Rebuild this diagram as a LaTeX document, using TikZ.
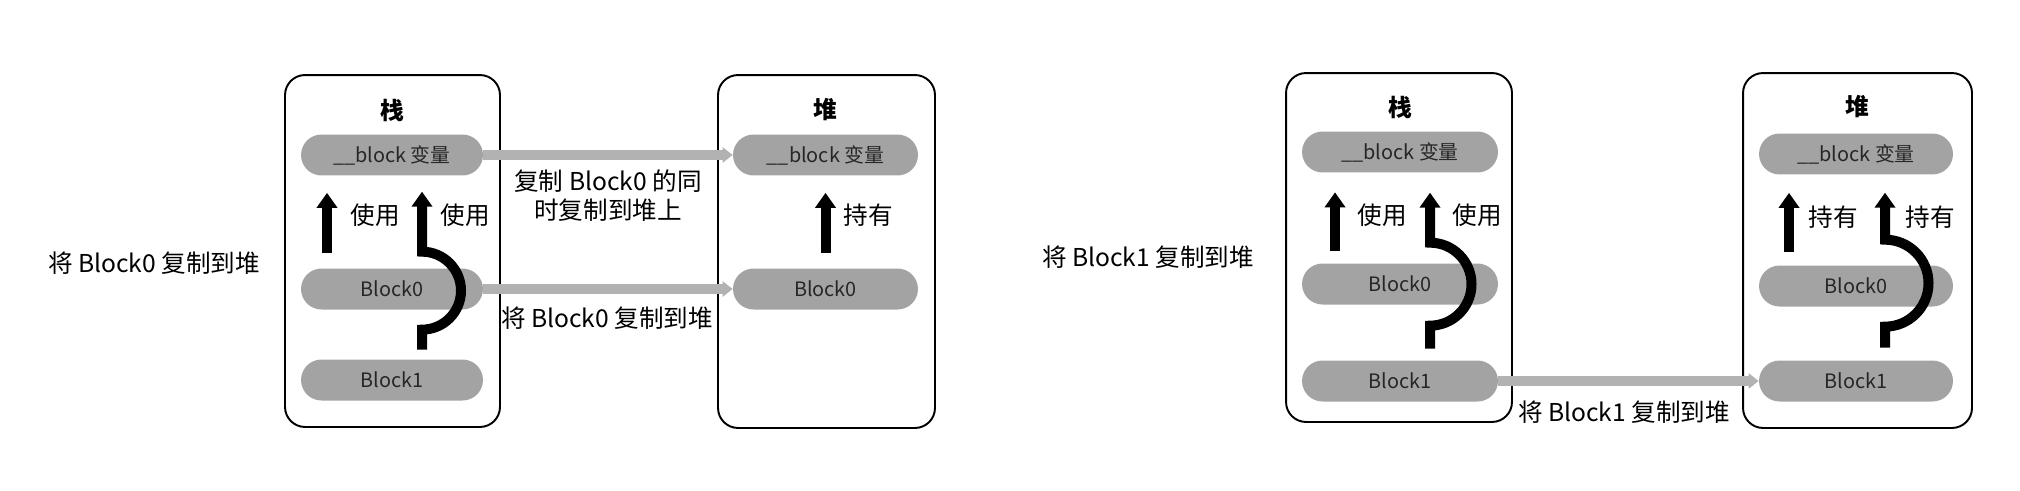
\documentclass[tikz,border=0pt]{standalone}
\usepackage{fontspec}
\setmainfont{Noto Sans CJK SC}
\usetikzlibrary{arrows.meta}

\definecolor{pillgray}{RGB}{163,163,163}
\definecolor{copygray}{RGB}{178,178,178}

\begin{document}
\begin{tikzpicture}
[
    x=0.02cm, y=-0.02cm,
    area/.style={draw, line width=1.1pt, rounded corners=0.4cm},
    pill/.style={fill=pillgray, rounded corners=0.41cm, minimum height=0.82cm,
                 text=black!85, font=\fontsize{11.3}{13}\selectfont},
    title/.style={font=\fontsize{13.5}{15}\bfseries\selectfont},
    lbl/.style={font=\fontsize{14}{16.5}\selectfont, align=center},
    hold/.style={line width=0.2cm, -{Triangle[length=0.3cm, width=0.4cm]}},
    copy/.style={copygray, line width=0.2cm, -{Triangle[length=0.2cm, width=0.3cm]}},
]
\useasboundingbox (0,0) rectangle (2020,490);

% left: Block0 copied to the heap
\node [lbl] (cap0) at (154,263) {将 Block0 复制到堆};

\node [area, minimum width=4.3cm, minimum height=7.04cm] (stack0) at (392.5,251) {};
\node [title] (stack0t) at (392,110) {栈};
\node [pill, minimum width=3.64cm] (s0var) at (392,155) {\_\_block 变量};
\node [pill, minimum width=3.64cm] (s0b0) at (392,289) {Block0};
\node [pill, minimum width=3.64cm] (s0b1) at (392,380) {Block1};

\node [area, minimum width=4.34cm, minimum height=7.06cm] (heap0) at (826.5,251.5) {};
\node [title] (heap0t) at (825,110) {堆};
\node [pill, minimum width=3.7cm] (h0var) at (825.5,155) {\_\_block 变量};
\node [pill, minimum width=3.7cm] (h0b0) at (825.5,289) {Block0};

\draw [hold, shorten <=0.3cm, shorten >=0.34cm]
    ([xshift=-1.3cm]s0b0.north) -- ([xshift=-1.3cm]s0var.south);
\draw [hold] ([xshift=0.6cm, yshift=0.19cm]s0b1.north) -- ++(0,-20)
    .. controls +(21.5,0) and +(0,21.5) .. ++(39,-39)
    .. controls +(0,-21.5) and +(21.5,0) .. ++(-39,-39) -- ++(0,-60);
\node [lbl] (s0use1) at (375,215) {使用};
\node [lbl] (s0use2) at (465,215) {使用};

\draw [hold, shorten <=0.3cm, shorten >=0.34cm] (h0b0.north) -- (h0var.south);
\node [lbl] (h0own) at (868,215) {持有};

\draw [copy] (s0var.east) -- (h0var.west);
\draw [copy] (s0b0.east) -- (h0b0.west);
\node [lbl] (copy0a) at (608,196) {复制 Block0 的同\\时复制到堆上};
\node [lbl] (copy0b) at (607,318) {将 Block0 复制到堆};

% right: Block1 copied to the heap
\node [lbl] (cap1) at (1148,257) {将 Block1 复制到堆};

\node [area, minimum width=4.52cm, minimum height=6.98cm] (stack1) at (1399,247.5) {};
\node [title] (stack1t) at (1400,107) {栈};
\node [pill, minimum width=3.92cm] (s1var) at (1400,152) {\_\_block 变量};
\node [pill, minimum width=3.92cm] (s1b0) at (1400,284) {Block0};
\node [pill, minimum width=3.92cm] (s1b1) at (1400,381) {Block1};

\node [area, minimum width=4.58cm, minimum height=7.1cm] (heap1) at (1857.5,250.5) {};
\node [title] (heap1t) at (1857,107) {堆};
\node [pill, minimum width=3.88cm] (h1var) at (1856,154) {\_\_block 变量};
\node [pill, minimum width=3.88cm] (h1b0) at (1856,286) {Block0};
\node [pill, minimum width=3.88cm] (h1b1) at (1856,381) {Block1};

\draw [hold, shorten <=0.25cm, shorten >=0.39cm]
    ([xshift=-1.3cm]s1b0.north) -- ([xshift=-1.3cm]s1var.south);
\draw [hold] ([xshift=0.6cm, yshift=0.23cm]s1b1.north) -- ++(0,-23)
    .. controls +(22.9,0) and +(0,22.9) .. ++(41.5,-41.5)
    .. controls +(0,-22.9) and +(22.9,0) .. ++(-41.5,-41.5) -- ++(0,-50);
\node [lbl] (s1use1) at (1382,215) {使用};
\node [lbl] (s1use2) at (1477,215) {使用};

\draw [hold, shorten <=0.26cm, shorten >=0.36cm]
    ([xshift=-1.34cm]h1b0.north) -- ([xshift=-1.34cm]h1var.south);
\draw [hold] ([xshift=0.58cm, yshift=0.25cm]h1b1.north) -- ++(0,-21)
    .. controls +(24,0) and +(0,24) .. ++(43.5,-43.5)
    .. controls +(0,-24) and +(24,0) .. ++(-43.5,-43.5) -- ++(0,-47);
\node [lbl] (h1own1) at (1833,217) {持有};
\node [lbl] (h1own2) at (1930,217) {持有};

\draw [copy] (s1b1.east) -- (h1b1.west);
\node [lbl] (copy1) at (1624,412) {将 Block1 复制到堆};
\end{tikzpicture}
\end{document}
